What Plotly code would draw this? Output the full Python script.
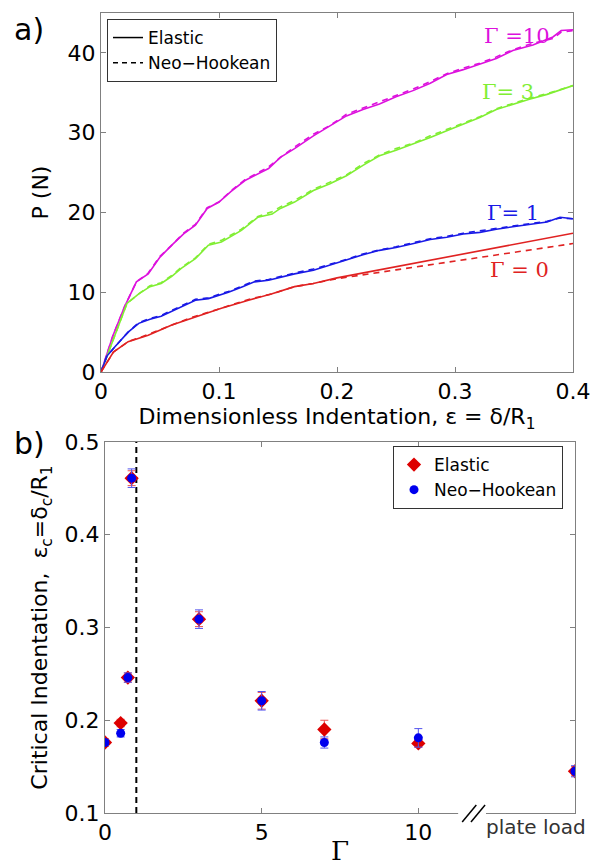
import plotly.graph_objects as go

# ---------------- Panel a data: P (N) vs dimensionless indentation ----------------
eps_g10 = [0, 0.010, 0.020, 0.030, 0.040, 0.050, 0.060, 0.070, 0.080, 0.090, 0.100, 0.110, 0.122,
           0.132, 0.142, 0.152, 0.164, 0.180, 0.194, 0.208, 0.222, 0.236, 0.250, 0.265, 0.279,
           0.293, 0.307, 0.321, 0.335, 0.349, 0.366, 0.383, 0.390, 0.400]
P_g10_el = [0, 4.5, 8.2, 11.3, 12.3, 14.4, 15.9, 17.3, 18.4, 20.5, 21.3, 22.6, 24.0,
            24.8, 25.5, 26.9, 28.0, 29.6, 30.8, 32.1, 32.9, 33.6, 34.5, 35.3, 36.2,
            37.3, 37.9, 38.6, 39.3, 40.3, 41.0, 42.0, 42.8, 42.9]
P_g10_nh = [0, 4.5, 8.2, 11.3, 12.4, 14.5, 15.9, 17.4, 18.5, 20.6, 21.3, 22.7, 24.1,
            24.9, 25.7, 26.9, 28.2, 29.8, 30.9, 32.3, 33.1, 33.8, 34.7, 35.5, 36.4,
            37.4, 38.1, 38.7, 39.5, 40.4, 41.2, 41.8, 42.6, 42.8]

eps_g3 = [0, 0.010, 0.022, 0.032, 0.0415, 0.051, 0.060, 0.068, 0.080, 0.091, 0.102, 0.119, 0.133,
          0.145, 0.152, 0.164, 0.180, 0.194, 0.208, 0.222, 0.236, 0.250, 0.265, 0.279, 0.293,
          0.307, 0.321, 0.335, 0.349, 0.363, 0.378, 0.390, 0.400]
P_g3_el = [0, 4.0, 8.6, 9.8, 10.7, 11.1, 12.0, 13.0, 14.2, 15.9, 16.3, 17.75, 19.4,
           19.8, 20.5, 21.3, 22.75, 23.6, 24.6, 25.9, 27.1, 27.8, 28.6, 29.4, 30.25,
           31.1, 31.9, 32.9, 33.6, 34.2, 34.8, 35.4, 35.9]
P_g3_nh = [0, 4.0, 8.6, 9.8, 10.8, 11.2, 12.1, 13.1, 14.3, 16.0, 16.5, 17.9, 19.5,
           20.1, 20.7, 21.5, 22.9, 23.8, 24.7, 26.1, 27.2, 28.0, 28.7, 29.6, 30.4,
           31.2, 32.0, 33.0, 33.7, 34.3, 34.9, 35.4, 35.9]

eps_g1 = [0, 0.005, 0.012, 0.023, 0.032, 0.0415, 0.051, 0.060, 0.068, 0.080, 0.091, 0.108, 0.120,
          0.130, 0.142, 0.152, 0.164, 0.180, 0.194, 0.208, 0.222, 0.236, 0.250, 0.265, 0.279,
          0.293, 0.307, 0.321, 0.335, 0.349, 0.363, 0.378, 0.389, 0.400]
P_g1_el = [0, 2.0, 3.2, 5.0, 6.1, 6.6, 7.0, 7.6, 8.2, 9.0, 9.2, 10.0, 10.7,
           11.3, 11.5, 11.9, 12.3, 12.75, 13.4, 14.0, 14.7, 15.25, 15.6, 16.1, 16.6,
           16.9, 17.3, 17.5, 17.9, 18.2, 18.5, 18.8, 19.4, 19.2]
P_g1_nh = [0, 2.0, 3.2, 5.0, 6.2, 6.7, 7.1, 7.7, 8.3, 9.1, 9.3, 10.1, 10.8,
           11.4, 11.6, 12.0, 12.4, 12.9, 13.5, 14.1, 14.8, 15.3, 15.7, 16.2, 16.7,
           17.0, 17.4, 17.7, 18.0, 18.3, 18.6, 18.9, 19.3, 19.2]

eps_g0 = [0, 0.0105, 0.023, 0.040, 0.060, 0.080, 0.102, 0.125, 0.145, 0.164, 0.180, 0.200,
          0.250, 0.300, 0.350, 0.400]
P_g0_el = [0, 2.5, 3.8, 4.6, 5.9, 6.9, 8.0, 9.0, 9.8, 10.7, 11.1, 11.8, 13.2, 14.6, 16.0, 17.4]
P_g0_nh = [0, 2.5, 3.8, 4.7, 5.9, 7.0, 8.0, 9.1, 9.8, 10.7, 11.1, 11.7, 12.8, 13.9, 15.0, 16.1]

curve_names = ["Γ =10", "Γ= 3", "Γ= 1", "Γ = 0"]
curve_colors = ["#DD11DD", "#80EE33", "#1A1AE6", "#E02222"]
label_eps = [0.323, 0.321, 0.325, 0.328]
label_P = [42.1, 35.1, 19.9, 12.75]

# ---------------- Panel b data: critical indentation vs Gamma ----------------
gamma = [0, 0.5, 0.73, 0.85, 3, 5, 7, 10, 15]
crit_el = [0.176, 0.197, 0.246, 0.461, 0.309, 0.221, 0.190, 0.175, 0.145]
crit_el_err = [0.004, 0.004, 0.005, 0.008, 0.008, 0.009, 0.010, 0.004, 0.005]
crit_nh = [0.176, 0.186, 0.246, 0.461, 0.309, 0.221, 0.176, 0.181, 0.145]
crit_nh_err = [0.003, 0.004, 0.005, 0.010, 0.010, 0.010, 0.006, 0.010, 0.006]
gamma_crit = 1
plate_label = "plate load"
xticks_b = [0, 5, 10]
yticks_b = [0.1, 0.2, 0.3, 0.4, 0.5]
xticks_a = [0, 0.1, 0.2, 0.3, 0.4]
yticks_a = [0, 10, 20, 30, 40]

FONT = "DejaVu Sans, Arial, sans-serif"
SERIF = "DejaVu Serif, Liberation Serif, serif"
AX = "#808080"

fig = go.Figure()

curves = [(eps_g10, P_g10_el, P_g10_nh), (eps_g3, P_g3_el, P_g3_nh),
          (eps_g1, P_g1_el, P_g1_nh), (eps_g0, P_g0_el, P_g0_nh)]
for (ex, pel, pnh), col in zip(curves, curve_colors):
    fig.add_trace(go.Scatter(x=ex, y=pnh, mode="lines", line=dict(color=col, width=1.6, dash="6px,5px"),
                             showlegend=False, xaxis="x", yaxis="y", hoverinfo="skip"))
    fig.add_trace(go.Scatter(x=ex, y=pel, mode="lines", line=dict(color=col, width=1.6),
                             showlegend=False, xaxis="x", yaxis="y", hoverinfo="skip"))

# legend entries panel a
fig.add_trace(go.Scatter(x=[None], y=[None], mode="lines", name="Elastic",
                         line=dict(color="black", width=1.5), legend="legend", xaxis="x", yaxis="y"))
fig.add_trace(go.Scatter(x=[None], y=[None], mode="lines", name="Neo\u2212Hookean",
                         line=dict(color="black", width=1.5, dash="5px,4px"), legend="legend",
                         xaxis="x", yaxis="y"))

# curve labels
for name, col, lx, ly in zip(curve_names, curve_colors, label_eps, label_P):
    fig.add_annotation(x=lx, y=ly, xref="x", yref="y", text=name, showarrow=False,
                       font=dict(family=SERIF, size=21, color=col), xanchor="left", yanchor="middle")

# panel b: vertical dashed line at gamma = 1
fig.add_trace(go.Scatter(x=[gamma_crit, gamma_crit], y=[yticks_b[0], yticks_b[-1]], mode="lines",
                         line=dict(color="black", width=2, dash="6px,4px"), showlegend=False,
                         xaxis="x2", yaxis="y2", hoverinfo="skip"))

fig.add_trace(go.Scatter(x=gamma, y=crit_el, mode="markers", name="Elastic",
                         marker=dict(symbol="diamond", size=11, color="#DD0000"),
                         error_y=dict(type="data", array=crit_el_err, color="#EE5555", thickness=1, width=4),
                         legend="legend2", xaxis="x2", yaxis="y2"))
fig.add_trace(go.Scatter(x=gamma, y=crit_nh, mode="markers", name="Neo\u2212Hookean",
                         marker=dict(symbol="circle", size=9, color="#0000EE"),
                         error_y=dict(type="data", array=crit_nh_err, color="#5555EE", thickness=1, width=4),
                         legend="legend2", xaxis="x2", yaxis="y2"))

axis_common = dict(showline=True, linecolor=AX, linewidth=1, mirror="ticks", ticks="inside",
                   ticklen=5, tickcolor=AX, showgrid=False, zeroline=False, automargin=False,
                   tickfont=dict(family=FONT, size=22, color="black"))

fig.update_layout(
    width=602, height=866,
    margin=dict(l=0, r=0, t=0, b=0),
    paper_bgcolor="white", plot_bgcolor="white",
    font=dict(family=FONT, color="black"),
    xaxis=dict(domain=[101 / 602, 573 / 602], range=[0, 0.4], tickvals=xticks_a,
               ticktext=[f"{v:g}" for v in xticks_a], anchor="y",
               title=dict(text="Dimensionless Indentation, ε = δ/R<sub>1</sub>",
                          font=dict(family=FONT, size=22), standoff=0), **axis_common),
    yaxis=dict(domain=[1 - 372 / 866, 1 - 13 / 866], range=[0, 45], tickvals=yticks_a, anchor="x",
               title=dict(text="P (N)", font=dict(family=FONT, size=22), standoff=12), **axis_common),
    xaxis2=dict(domain=[105 / 602, 575 / 602], range=[0, 15], tickvals=xticks_b, anchor="y2",
                title=dict(text="Γ", font=dict(family=SERIF, size=26), standoff=0), **axis_common),
    yaxis2=dict(domain=[1 - 813 / 866, 1 - 442 / 866], range=[0.1, 0.5], tickvals=yticks_b, anchor="x2",
                ticktext=[f"{v:.1f}" for v in yticks_b],
                title=dict(text="Critical Indentation,  ε<sub>c</sub>=δ<sub>c</sub>/R<sub>1</sub>",
                           font=dict(family=FONT, size=22), standoff=10), **axis_common),
    legend=dict(x=107 / 602, y=1 - 19 / 866, xanchor="left", yanchor="top", bgcolor="white",
                bordercolor="#333", borderwidth=1, font=dict(family=FONT, size=17),
                tracegroupgap=0, itemwidth=30),
    legend2=dict(x=393 / 602, y=1 - 446 / 866, xanchor="left", yanchor="top", bgcolor="white",
                 bordercolor="#333", borderwidth=1, font=dict(family=FONT, size=17),
                 tracegroupgap=0, itemwidth=30),
    showlegend=True,
)

# panel labels
fig.add_annotation(x=12 / 602, y=1 - 10 / 866, xref="paper", yref="paper", text="a)", showarrow=False,
                   font=dict(family=FONT, size=30), xanchor="left", yanchor="top")
fig.add_annotation(x=12 / 602, y=1 - 424 / 866, xref="paper", yref="paper", text="b)", showarrow=False,
                   font=dict(family=FONT, size=30), xanchor="left", yanchor="top")

# axis break on panel b
fig.add_shape(type="rect", xref="x2", yref="paper", x0=11.27, x1=12.16,
              y0=1 - 816 / 866, y1=1 - 810 / 866, fillcolor="white", line=dict(width=0), layer="above")
for dx in [0, 0.28]:
    fig.add_shape(type="line", xref="x2", yref="paper", x0=11.4 + dx, x1=11.85 + dx,
                  y0=1 - 822 / 866, y1=1 - 805 / 866, line=dict(color="black", width=1.5), layer="above")
fig.add_annotation(x=13.76, y=1 - 827 / 866, xref="x2", yref="paper", text=plate_label, showarrow=False,
                   font=dict(family=FONT, size=20, color="#333"), xanchor="center", yanchor="middle")

fig.write_html("out.html", config={"displayModeBar": False},
               post_script="document.body.style.margin='0px';")
